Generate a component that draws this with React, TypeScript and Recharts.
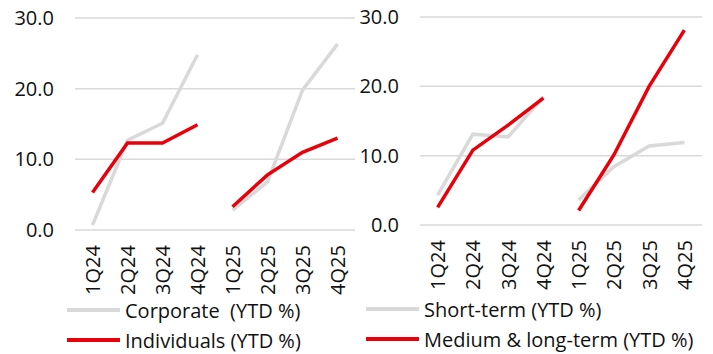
import { CartesianGrid, Legend, Line, LineChart, XAxis, YAxis } from "recharts";

// Loan growth, two panels: by customer type (left) and by tenor (right).

const QUARTERS = ["1Q24", "2Q24", "3Q24", "4Q24", "1Q25", "2Q25", "3Q25", "4Q25"];
const Y_TICKS = [0, 10, 20, 30];

const CORPORATE = [0.7, 12.7, 15.1, 24.8, 2.8, 6.8, 19.8, 26.3];
const INDIVIDUALS = [5.3, 12.3, 12.3, 14.9, 3.3, 7.8, 11.0, 13.0];
const SHORT_TERM = [4.3, 13.1, 12.7, 18.5, 3.6, 8.4, 11.4, 11.9];
const MEDIUM_LONG = [2.55, 10.8, 14.4, 18.3, 2.1, 10.1, 20.0, 28.1];

const GREY = "#d9d9d9";
const RED = "#e8000b";
const FONT = "'Open Sans', sans-serif";
const FS = 20;

// split each series per year so the line breaks between 4Q24 and 1Q25
function buildRows(a: number[], b: number[]) {
  return QUARTERS.map((q, i) => ({
    q,
    a24: i < 4 ? a[i] : null,
    a25: i >= 4 ? a[i] : null,
    b24: i < 4 ? b[i] : null,
    b25: i >= 4 ? b[i] : null,
  }));
}

function RotatedTick(props: any) {
  const { x, y, payload } = props;
  return (
    <text
      x={x}
      y={y}
      transform={`rotate(-90 ${x} ${y})`}
      textAnchor="end"
      dominantBaseline="central"
      fontSize={FS}
      fontFamily={FONT}
      fill="#111"
    >
      {payload.value}
    </text>
  );
}

function LegendBox(props: any) {
  const order: string[] = props.order;
  const items = (props.payload || [])
    .filter((p: any) => order.includes(p.value))
    .sort((p: any, q: any) => order.indexOf(p.value) - order.indexOf(q.value));
  return (
    <div style={{ fontFamily: FONT, fontSize: FS, color: "#111" }}>
      {items.map((p: any) => (
        <div key={p.value} style={{ display: "flex", alignItems: "center", height: 30, whiteSpace: "pre" }}>
          <svg width={53} height={6} style={{ marginRight: 5 }}>
            <line x1={0} y1={3} x2={53} y2={3} stroke={p.color} strokeWidth={4} />
          </svg>
          <span>{p.value}</span>
        </div>
      ))}
    </div>
  );
}

interface PanelProps {
  a: number[];
  b: number[];
  nameA: string;
  nameB: string;
  width: number;
  top: number;
  yWidth: number;
  right: number;
  xHeight: number;
  legendLeft: number;
  legendTop: number;
}

function Panel({ a, b, nameA, nameB, width, top, yWidth, right, xHeight, legendLeft, legendTop }: PanelProps) {
  const rows = buildRows(a, b);
  const half = (width - yWidth - right) / 16;
  return (
    <LineChart width={width} height={354} data={rows} margin={{ top, right, left: 0, bottom: 0 }}>
      <CartesianGrid stroke={GREY} strokeWidth={1.5} vertical={false} />
      <XAxis
        dataKey="q"
        axisLine={false}
        tickLine={false}
        interval={0}
        height={xHeight}
        padding={{ left: half, right: half }}
        tickMargin={9}
        tick={<RotatedTick />}
      />
      <YAxis
        domain={[0, 30]}
        ticks={Y_TICKS}
        width={yWidth}
        axisLine={false}
        tickLine={false}
        tickMargin={15}
        tick={{ fontSize: FS, fontFamily: FONT, fill: "#111" }}
        tickFormatter={(v: number) => v.toFixed(1)}
      />
      <Legend
        layout="horizontal"
        verticalAlign="middle"
        wrapperStyle={{ top: legendTop, left: legendLeft, width: "auto" }}
        content={<LegendBox order={[nameA, nameB]} />}
      />
      <Line dataKey="a24" name={nameA} stroke={GREY} strokeWidth={3.5} dot={false} isAnimationActive={false} />
      <Line dataKey="a25" name={nameA + " 25"} legendType="none" stroke={GREY} strokeWidth={3.5} dot={false} isAnimationActive={false} />
      <Line dataKey="b24" name={nameB} stroke={RED} strokeWidth={3.5} dot={false} isAnimationActive={false} />
      <Line dataKey="b25" name={nameB + " 25"} legendType="none" stroke={RED} strokeWidth={3.5} dot={false} isAnimationActive={false} />
    </LineChart>
  );
}

export default function App() {
  return (
    <div style={{ position: "absolute", left: 0, top: 0, width: 713, height: 354, background: "#fff", display: "flex" }}>
      <Panel
        a={CORPORATE}
        b={INDIVIDUALS}
        nameA="Corporate  (YTD %)"
        nameB="Individuals (YTD %)"
        width={355}
        top={18}
        yWidth={75}
        right={0}
        xHeight={124}
        legendLeft={67}
        legendTop={295}
      />
      <Panel
        a={SHORT_TERM}
        b={MEDIUM_LONG}
        nameA="Short-term (YTD %)"
        nameB="Medium & long-term (YTD %)"
        width={358}
        top={17}
        yWidth={65}
        right={11}
        xHeight={129}
        legendLeft={11}
        legendTop={294}
      />
    </div>
  );
}
